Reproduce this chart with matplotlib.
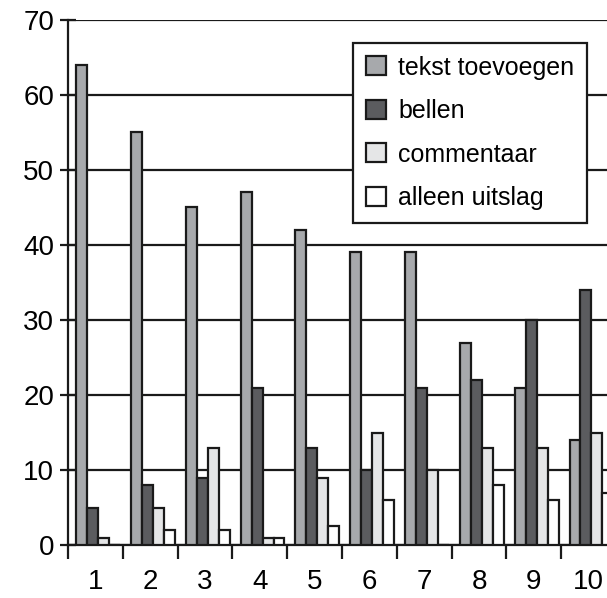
import numpy as np
import matplotlib
matplotlib.use("Agg")
import matplotlib.pyplot as plt

plt.rcParams['font.family'] = ['Liberation Sans', 'DejaVu Sans']

categories = ['1', '2', '3', '4', '5', '6', '7', '8', '9', '10']
series_names = ['tekst toevoegen', 'bellen', 'commentaar', 'alleen uitslag']
tekst = [64, 55, 45, 47, 42, 39, 39, 27, 21, 14]
bellen = [5, 8, 9, 21, 13, 10, 21, 22, 30, 34]
commentaar = [1, 5, 13, 1, 9, 15, 10, 13, 13, 15]
alleen = [0, 2, 2, 1, 2.5, 6, 0, 8, 6, 7]
colors = ['#a7a9ac', '#5b5c5f', '#e5e6e7', '#ffffff']

fig = plt.figure(figsize=(6.07, 5.98), dpi=100)
ax = fig.add_axes([0.112, 0.0886, 0.903, 0.878])

x = np.arange(1, len(categories) + 1)
w = 0.2
for k, (vals, name) in enumerate(zip([tekst, bellen, commentaar, alleen], series_names)):
    ax.bar(x + (k - 1.5) * w + 0.05, vals, w, color=colors[k], edgecolor='#1a1a1a',
           linewidth=1.6, label=name, zorder=3)

ax.set_ylim(0, 70)
ax.set_xlim(0.5, 10.5)
ax.set_yticks(range(0, 71, 10))
ax.yaxis.grid(True, color='#1a1a1a', linewidth=1.6, zorder=0)
ax.set_axisbelow(True)

ax.set_xticks(x)
ax.set_xticklabels(categories)
ax.set_xticks(np.arange(0.5, 10.6, 1), minor=True)
ax.tick_params(axis='x', which='major', length=0, pad=17, labelsize=20)
ax.tick_params(axis='x', which='minor', length=10, width=1.6, direction='out', color='#1a1a1a')
ax.tick_params(axis='y', length=12, width=1.6, direction='inout', labelsize=20, pad=4,
               color='#1a1a1a')

for s in ['top', 'right']:
    ax.spines[s].set_visible(False)
for s in ['left', 'bottom']:
    ax.spines[s].set_linewidth(1.6)
    ax.spines[s].set_color('#1a1a1a')

leg = fig.legend(loc='upper left', bbox_to_anchor=(0.582, 0.928), fontsize=18,
                 handlelength=0.8, handleheight=0.8, handletextpad=0.5,
                 labelspacing=0.78, borderpad=0.5, fancybox=False, framealpha=1,
                 edgecolor='#1a1a1a', borderaxespad=0)
leg.get_frame().set_linewidth(1.6)
for h in leg.legend_handles:
    h.set_linewidth(1.6)

fig.savefig("out.png", dpi=100)
